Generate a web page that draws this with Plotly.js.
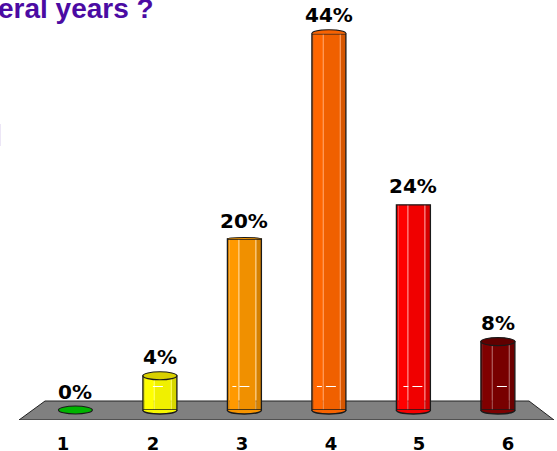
<!DOCTYPE html>
<html><head><meta charset="utf-8">
<script src="https://cdn.plot.ly/plotly-3.0.1.min.js"></script>
<style>html,body{margin:0;padding:0;background:#fff;overflow:hidden}</style>
</head><body><div id="chart" style="width:557px;height:451px"></div>
<script>
const categories = [1, 2, 3, 4, 5, 6];
const values = [0, 4, 20, 44, 24, 8];
const labels = ['0%', '4%', '20%', '44%', '24%', '8%'];
const colors = ['#00B400', '#FFFF00', '#FF9900', '#FF6600', '#FF0000', '#800000'];
const capColors = ['#00B400', '#D8D000', '#F09400', '#F86200', '#F00000', '#600000'];
const tickPixels = [63, 153, 242, 331, 419, 508];
const titleText = 'eral years ?';

// scale: pixels per category step and per percent
const stepPx = 84.5, pctPx = 8.55, barPx = 34;
const capHalfPx = [4, 4, 1.5, 4, 0, 4];
const capFull = [true, true, false, false, false, true];
const px = v => v / stepPx;
const xOfPx = p => 1 + (p - 75.4) / stepPx;
const yOfPx = p => (410 - p) / pctPx;

function shade(hex, f) {
  const n = parseInt(hex.slice(1), 16);
  const c = [n >> 16, (n >> 8) & 255, n & 255].map(v =>
    Math.round(f >= 1 ? v + (255 - v) * (f - 1) : v * f));
  return `rgb(${c[0]},${c[1]},${c[2]})`;
}
// vertical shading bands of each cylinder: [left px, right px, tone]
const bands = [[0, 2, 0.86], [2, 11, 1], [11, 12, 1.3], [12, 28, 0.94], [28, 29, 1.3], [29, 34, 0.84]];
const barX = categories.slice(1), barY = values.slice(1);
const traces = bands.map(b => ({
  type: 'bar', x: barX, y: barY,
  width: px(b[1] - b[0]), offset: px(b[0] - barPx / 2),
  marker: { color: colors.slice(1).map(c => shade(c, b[2])), line: { width: 0 } },
  hoverinfo: 'skip', showlegend: false
}));
traces.push({
  type: 'bar', x: barX, y: barY, width: px(barPx), offset: px(-barPx / 2),
  marker: { color: 'rgba(0,0,0,0)', line: { color: '#1a1a1a', width: 1.3 } },
  hoverinfo: 'skip', showlegend: false
});

const shapes = [{
  type: 'path', layer: 'below', fillcolor: '#808080', line: { color: '#222', width: 1 },
  path: `M${xOfPx(45)},${yOfPx(401)} L${xOfPx(529)},${yOfPx(401)} L${xOfPx(554)},${yOfPx(420)} L${xOfPx(19)},${yOfPx(420)} Z`
}, {
  type: 'rect', layer: 'below', line: { width: 0 }, fillcolor: '#ECE6F6',
  x0: xOfPx(0), x1: xOfPx(1), y0: yOfPx(146), y1: yOfPx(124)
}];
const baseH = 4 / pctPx;
categories.forEach((c, i) => {
  const l = c - px(barPx / 2), r = c + px(barPx / 2), v = values[i];
  const capH = capHalfPx[i] / pctPx;
  if (v > 0) {
    shapes.push({
      type: 'path', fillcolor: shade(colors[i], 0.97), line: { color: '#1a1a1a', width: 1.3 },
      path: `M${l},0 C${l},${-baseH * 1.33} ${r},${-baseH * 1.33} ${r},0`
    });
  }
  if (capH > 0 && capFull[i]) shapes.push({
    type: 'circle', xref: 'x', yref: 'y', fillcolor: capColors[i],
    line: { color: '#1a1a1a', width: 1.1 },
    x0: l, x1: r, y0: v - capH, y1: v + capH
  });
  if (capH > 0 && !capFull[i]) shapes.push({
    type: 'path', fillcolor: capColors[i], line: { color: '#1a1a1a', width: 1.1 },
    path: `M${l},${v} C${l},${v + capH * 1.33} ${r},${v + capH * 1.33} ${r},${v}`
  });
});
// short white dashes crossing the cylinders
const dashSets = { 2: [[-7, 3]], 3: [[-12, -8], [-5, 5]], 4: [[-12, -7], [-3, 7]], 5: [[-10, -5], [-1, 9]], 6: [[-1, 9]] };
Object.keys(dashSets).forEach(k => dashSets[k].forEach(d => shapes.push({
  type: 'line', line: { color: '#fff', width: 1 },
  x0: +k + px(d[0]), x1: +k + px(d[1]), y0: yOfPx(386.5), y1: yOfPx(386.5)
})));

const annotations = categories.map((c, i) => ({
  x: c, y: values[i], text: labels[i], showarrow: false, xanchor: 'center', yanchor: 'bottom',
  yshift: 4.5, font: { family: 'DejaVu Sans', size: 20, color: '#000', weight: 700 }
}));
annotations.push({
  xref: 'paper', yref: 'paper', x: -0.008, y: 0.945, yshift: -3, xanchor: 'left', yanchor: 'bottom',
  text: '<b>' + titleText + '</b>', showarrow: false, align: 'left',
  font: { family: 'Liberation Sans', size: 28, color: '#4B0BA3' }
});

Plotly.newPlot('chart', traces, {
  width: 557, height: 451, margin: { l: 0, r: 0, t: 0, b: 31 },
  paper_bgcolor: '#fff', plot_bgcolor: 'rgba(0,0,0,0)',
  barmode: 'overlay', showlegend: false, shapes, annotations,
  xaxis: {
    range: [xOfPx(0), xOfPx(557)], tickmode: 'array', tickvals: tickPixels.map(xOfPx), ticktext: categories.map(String),
    showgrid: false, zeroline: false, showline: false, ticks: 'outside', ticklen: 7, tickcolor: 'rgba(0,0,0,0)',
    tickfont: { family: 'DejaVu Sans', size: 18, color: '#000', weight: 700 }, fixedrange: true
  },
  yaxis: { range: [yOfPx(420), yOfPx(0)], visible: false, fixedrange: true }
}, { displayModeBar: false, staticPlot: true });
</script></body></html>
